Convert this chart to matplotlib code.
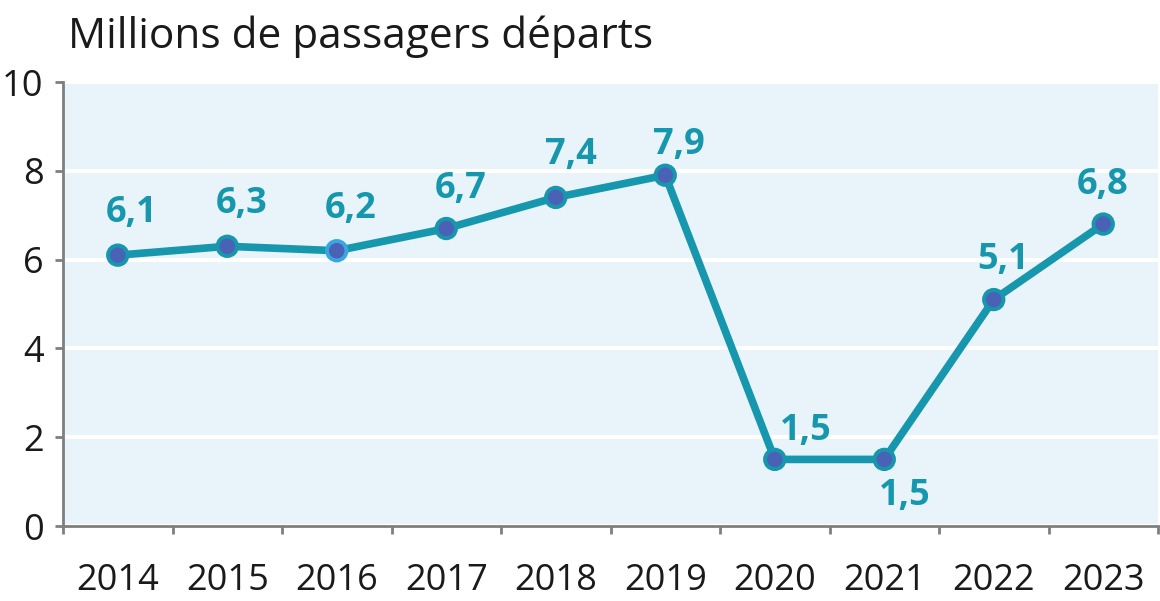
import matplotlib
matplotlib.use("Agg")
import matplotlib.pyplot as plt
import numpy as np

plt.rcParams["font.family"] = ["Open Sans", "DejaVu Sans"]

annees = ["2014", "2015", "2016", "2017", "2018", "2019", "2020", "2021", "2022", "2023"]
passagers = [6.1, 6.3, 6.2, 6.7, 7.4, 7.9, 1.5, 1.5, 5.1, 6.8]
etiquettes = ["6,1", "6,3", "6,2", "6,7", "7,4", "7,9", "1,5", "1,5", "5,1", "6,8"]

# décalage des étiquettes (pixels) et alignement
decalages = [(14, 33), (14, 33), (14, 33), (14, 31), (15, 33), (14, 21),
             (5, 19), (-5, -46), (9, 31), (-1, 30)]
alignements = ["center"] * 6 + ["left", "left"] + ["center"] * 2

TEAL = "#1797ad"
VIOLET = "#4a62b5"
FOND = "#e8f4f9"
GRIS = "#7f7f7f"

fig = plt.figure(figsize=(11.6, 6.01), dpi=100)
ax = fig.add_axes([63 / 1160, 1 - 526 / 601, 1095 / 1160, 444 / 601])
ax.set_facecolor(FOND)

x = np.arange(len(annees))
ax.plot(x, passagers, color=TEAL, lw=5.5, zorder=3, solid_capstyle="round")
bords = [TEAL] * len(annees)
bords[2] = "#3aa6e0"
ax.scatter(x, passagers, s=14 ** 2, color=VIOLET, edgecolors=bords,
           linewidths=2.8, zorder=4)

for xi, yi, txt, (dx, dy), ha in zip(x, passagers, etiquettes, decalages, alignements):
    ax.annotate(txt, (xi, yi), xytext=(dx, dy), textcoords="offset pixels",
                ha=ha, va="baseline", fontsize=26, fontweight="bold", color=TEAL)

ax.set_xlim(-0.5, len(annees) - 0.5)
ax.set_ylim(0, 10)
ax.set_yticks([0, 2, 4, 6, 8, 10])
ax.set_xticks(x)
ax.set_xticklabels(annees)
ax.set_xticks(np.arange(-0.5, len(annees)), minor=True)
ax.yaxis.grid(True, color="white", lw=3)
ax.set_axisbelow(True)

for s in ["top", "right"]:
    ax.spines[s].set_visible(False)
for s in ["left", "bottom"]:
    ax.spines[s].set_color(GRIS)
    ax.spines[s].set_linewidth(2)

ax.tick_params(axis="y", length=6, width=2, color=GRIS, pad=8,
               labelsize=26, labelcolor="#1a1a1a")
ax.tick_params(axis="x", which="major", length=0, pad=27,
               labelsize=26, labelcolor="#1a1a1a")
ax.tick_params(axis="x", which="minor", length=6, width=2, color=GRIS)

fig.text(68 / 1160, 1 - 48 / 601, "Millions de passagers départs",
         fontsize=30.5, color="#1a1a1a", va="baseline", ha="left")

fig.savefig("out.png", dpi=100)
